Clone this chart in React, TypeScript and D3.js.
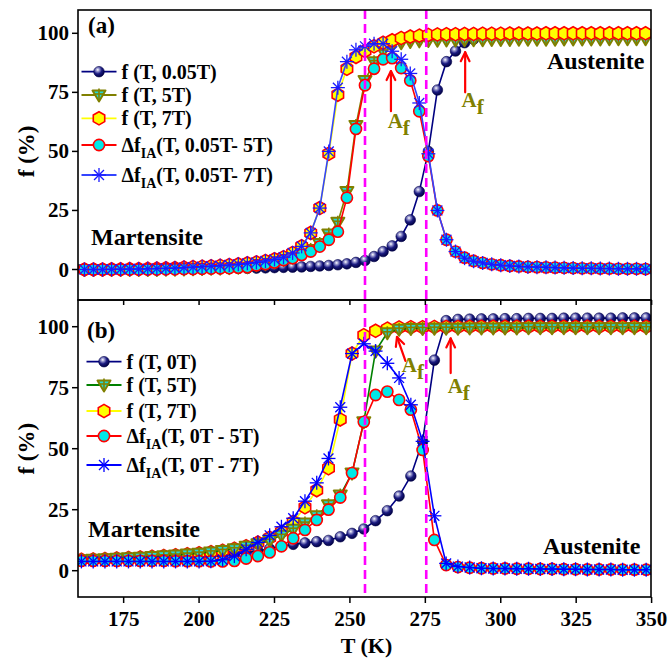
import React from "react";
import * as d3 from "d3";

// ---------- data: panel (a) ----------
const TEMP_A = [162,165,168,171,174,177,180,183,186,189,192,195,198,201,204,207,210,213,216,219,222,225,228,231,234,237,240,243,246,249,252,255,258,261,264,267,270,273,276,279,282,285,288,291,294,297,300,303,306,309,312,315,318,321,324,327,330,333,336,339,342,345,348];

const A_F_005T = [0,0,0,0,0,0,0,0,0,0,0.1,0.1,0.2,0.2,0.3,0.3,0.4,0.5,0.5,0.6,0.7,0.8,0.9,1.0,1.1,1.3,1.5,
  1.7,2.0,2.4,3.0,3.8,5.5,7.6,10,14,21,33,50,76,88,92.5,96,97.5,98.3,98.8,99.1,
  99.3,99.4,99.5,99.5,99.6,99.6,99.7,99.7,99.7,99.8,99.8,99.8,99.8,99.9,99.9,99.9];

const A_F_5T = [0,0,0,0,0,0,0,0,0,0.1,0.1,0.2,0.3,0.4,0.5,0.6,0.8,1.0,1.2,
  2.0,2.5,3.2,4.3,5.2,6.8,8.5,11,15,20,33,61,80,88,92.5,95,96,96.5,96.8,
  97.0,97.1,97.2,97.2,97.3,97.3,97.3,97.4,97.4,97.4,97.5,97.5,97.5,97.5,97.5,97.6,97.6,97.6,97.6,97.6,97.7,97.7,97.7,97.7,97.7];

const A_F_7T = [0,0,0,0.1,0.1,0.2,0.2,0.3,0.4,0.5,0.6,0.8,1.0,1.2,1.4,1.6,1.9,2.2,2.6,3.0,3.6,4.3,5.2,7,9.8,15.5,26,49,74,85,90,92.5,94.5,96,97,98,98.6,99,99.3,
  99.5,99.6,99.6,99.7,99.7,99.8,99.8,99.8,99.9,99.9,99.9,99.9,100,100,100,100,100,100,100,100,100,100,100,100];

const A_DF_5T = [0,0,0,0,0,0,0,0,0,0.1,0.1,0.2,0.2,0.3,0.4,0.5,0.6,0.8,1.0,
  1.8,2.3,3.0,4.0,4.8,6.2,7.6,9.7,12.6,16,30.4,59.5,78,85,89,89.5,85.3,80,67,48,25,12.6,7.6,5,3.6,2.8,2.2,1.8,
  1.5,1.3,1.1,1.0,0.9,0.8,0.7,0.6,0.5,0.5,0.4,0.4,0.3,0.3,0.3,0.2];

const A_DF_7T = [0,0,0,0.1,0.1,0.2,0.2,0.3,0.4,0.5,0.6,0.8,1.0,1.2,1.4,1.6,1.9,2.2,2.6,3.0,3.6,4.3,5.2,7,9.8,15.5,26,
  50,77,88,93,94.5,95.6,95.6,92.4,89,83,70.5,49,25,12.6,7.6,4.8,3.5,2.8,2.2,1.8,
  1.5,1.3,1.1,1.0,0.9,0.8,0.7,0.6,0.5,0.5,0.4,0.4,0.3,0.3,0.3,0.2];

// ---------- data: panel (b) ----------
const TEMP_B = [161.0,164.9,168.8,172.7,176.6,180.5,184.4,188.3,192.2,196.1,200.0,203.9,207.8,211.7,215.6,219.5,223.4,227.3,231.2,235.1,239.0,242.9,246.8,250.7,254.6,258.5,262.4,266.3,270.2,274.1,278.0,281.9,285.8,289.7,293.6,297.5,301.4,305.3,309.2,313.1,317.0,320.9,324.8,328.7,332.6,336.5,340.4,344.3,348.2];

const B_F_0T = [4.0,4.1,4.2,4.3,4.4,4.5,4.7,4.9,5.1,5.3,5.6,5.9,6.3,6.8,7.4,8.1,9.0,10.0,10.8,11.4,11.9,12.4,13.9,15.3,17.1,20.5,24.6,30.6,38.8,53,86.3,102.5,
  103,103.1,103.2,103.2,103.3,103.3,103.4,103.4,103.4,103.5,103.5,103.5,103.5,103.5,103.6,103.6,103.6];

const B_F_5T = [4.5,4.7,4.9,5.1,5.3,5.5,5.8,6.1,6.4,6.8,7.2,7.7,8.3,9.0,10,11,12.5,14.5,17,19.5,22.5,27,31,40,61,90,97.5,99,
  99.3,99.3,99.4,99.4,99.4,99.5,99.5,99.5,99.5,99.5,99.6,99.6,99.6,99.6,99.6,99.6,99.6,99.6,99.6,99.6,99.6];

const B_F_7T = [4.5,4.6,4.8,5.0,5.2,5.4,5.7,6.0,6.3,6.7,7.1,7.6,8.2,9.0,10,11.5,13.5,16,20,26,33,42,62,89,96.5,98.3,99.2,
  99.7,99.8,99.8,99.9,99.9,99.9,100,100,100,100,100,100,100,100,100,100,100,100,100,100,100,100];

const B_DF_5T = [4.0,4.0,4.0,4.0,4.0,4.0,4.0,4.0,3.9,3.9,3.9,3.8,3.8,4.0,5.0,6.0,7.5,10,13.3,16.7,20.8,25,30,40,61,72,73.4,70,66,49.5,12.6,2.3,1.5,1.2,
  1.0,0.9,0.9,0.8,0.8,0.7,0.7,0.6,0.6,0.5,0.5,0.5,0.4,0.4,0.4];

const B_DF_7T = [3.8,3.8,3.8,3.8,3.8,3.8,3.8,3.8,3.8,3.8,3.8,3.9,4.5,6.0,8.8,11.6,14.5,18,21.5,28.5,36,46,67,89,93,90,85,79,68,53,22.5,3.0,1.7,1.3,
  1.0,0.9,0.9,0.8,0.8,0.7,0.7,0.6,0.6,0.5,0.5,0.5,0.4,0.4,0.4];

// ---------- axes / annotations ----------
const X_TICKS = [175, 200, 225, 250, 275, 300, 325, 350];
const Y_TICKS = [0, 25, 50, 75, 100];
const TRANSITION_T = [255, 275.3];

const LEGEND_A = ["f (T, 0.05T)", "f (T, 5T)", "f (T, 7T)", "(T, 0.05T- 5T)", "(T, 0.05T- 7T)"];
const LEGEND_B = ["f (T, 0T)", "f (T, 5T)", "f (T, 7T)", "(T, 0T - 5T)", "(T, 0T - 7T)"];

// arrows: [T tail, f tail, T tip, f tip]
const ARROWS_A = [[263.6, 67, 263.6, 84], [288.2, 75, 288.2, 92]];
const ARROWS_B = [[268.4, 86, 265.6, 95.8], [283.4, 81, 283.4, 95.2]];
// Af labels: [T, f] of text baseline start
const AF_A = [[262.5, 60], [287, 69]];
const AF_B = [[267.2, 81.5], [282.4, 72.8]];

const FONT = "'Liberation Serif', 'Times New Roman', serif";
const W = 670;
const H = 659;
const LEFT = 78;
const RIGHT = 651;

const x = d3.scaleLinear().domain([160, 350]).range([78.4, 651.6]);
const yA = d3.scaleLinear().domain([0, 100]).range([269.5, 33.3]);
const yB = d3.scaleLinear().domain([0, 100]).range([570.7, 326.7]);

const PANEL_A = { top: 10, bottom: 300 };
const PANEL_B = { top: 300, bottom: 597 };

type MarkerKind = "sphere" | "tri" | "hex" | "circle" | "star";

function Marker({ kind, cx, cy, starColor }: { kind: MarkerKind; cx: number; cy: number; starColor?: string }) {
  if (kind === "sphere") {
    return <circle cx={cx} cy={cy} r={5.3} fill="url(#sphereGrad)" stroke="#00004a" strokeWidth={0.6} />;
  }
  if (kind === "tri") {
    const s = 6.5;
    const p = `M${cx - s},${cy - 4.5}L${cx + s},${cy - 4.5}L${cx},${cy + 6.5}Z`;
    return (
      <g>
        <path d={p} fill="#22d8d8" stroke="#808000" strokeWidth={2} strokeLinejoin="round" />
        <line x1={cx} y1={cy - 6.5} x2={cx} y2={cy + 5} stroke="#808000" strokeWidth={1.6} />
        <line x1={cx - 5} y1={cy - 1} x2={cx + 5} y2={cy - 1} stroke="#808000" strokeWidth={1.6} />
      </g>
    );
  }
  if (kind === "hex") {
    const r = 6.6;
    const pts = d3.range(6).map((k) => {
      const a = -Math.PI / 2 + (k * Math.PI) / 3;
      return [cx + r * Math.cos(a), cy + r * Math.sin(a)];
    });
    return <polygon points={pts.map((p) => p.join(",")).join(" ")} fill="#ffff00" stroke="#ff0000" strokeWidth={1.6} />;
  }
  if (kind === "circle") {
    return <circle cx={cx} cy={cy} r={5.6} fill="#00e8e8" stroke="#ff0000" strokeWidth={1.6} />;
  }
  const r = 7;
  const col = starColor || "#0000ff";
  return (
    <g stroke={col} strokeWidth={1.3}>
      {[0, 45, 90, 135].map((deg) => {
        const a = (deg * Math.PI) / 180;
        return <line key={deg} x1={cx - r * Math.cos(a)} y1={cy - r * Math.sin(a)} x2={cx + r * Math.cos(a)} y2={cy + r * Math.sin(a)} />;
      })}
    </g>
  );
}

type SeriesDef = { t: number[]; v: number[]; kind: MarkerKind; line: string; width?: number; starColor?: string };

function Series({ s, y }: { s: SeriesDef; y: d3.ScaleLinear<number, number> }) {
  const pts: [number, number][] = s.t.map((t, i) => [x(t), y(s.v[i])]);
  const path = d3.line()(pts) || "";
  return (
    <g>
      <path d={path} fill="none" stroke={s.line} strokeWidth={s.width || 1.6} />
      {pts.map((p, i) => (
        <Marker key={i} kind={s.kind} cx={p[0]} cy={p[1]} starColor={s.starColor} />
      ))}
    </g>
  );
}

function LegendLabel({ text, delta, x0, y0 }: { text: string; delta: boolean; x0: number; y0: number }) {
  if (!delta) {
    return (
      <text x={x0} y={y0} fontFamily={FONT} fontWeight="bold" fontSize={20}>
        {text}
      </text>
    );
  }
  return (
    <text x={x0} y={y0} fontFamily={FONT} fontWeight="bold" fontSize={20}>
      Δf
      <tspan fontSize={14} dy={6}>IA</tspan>
      <tspan dy={-6}>{text}</tspan>
    </text>
  );
}

function Legend({
  labels, kinds, lines, rows, lineX0, lineX1, textX, starColor,
}: {
  labels: string[]; kinds: MarkerKind[]; lines: string[]; rows: number[];
  lineX0: number; lineX1: number; textX: number; starColor: string;
}) {
  return (
    <g>
      {labels.map((lab, i) => (
        <g key={i}>
          <line x1={lineX0} x2={lineX1} y1={rows[i]} y2={rows[i]} stroke={lines[i]} strokeWidth={1.8} />
          <Marker kind={kinds[i]} cx={(lineX0 + lineX1) / 2} cy={rows[i]} starColor={starColor} />
          <LegendLabel text={lab} delta={i >= 3} x0={textX} y0={rows[i] + 7} />
        </g>
      ))}
    </g>
  );
}

function Arrow({ x1, y1, x2, y2 }: { x1: number; y1: number; x2: number; y2: number }) {
  const ang = Math.atan2(y2 - y1, x2 - x1);
  const hl = 10;
  const hw = 0.45;
  const a1 = [x2 - hl * Math.cos(ang - hw), y2 - hl * Math.sin(ang - hw)];
  const a2 = [x2 - hl * Math.cos(ang + hw), y2 - hl * Math.sin(ang + hw)];
  return (
    <g stroke="#ff0000" strokeWidth={2.2} fill="none" strokeLinecap="round" strokeLinejoin="round">
      <line x1={x1} y1={y1} x2={x2} y2={y2} />
      <polyline points={`${a1[0]},${a1[1]} ${x2},${y2} ${a2[0]},${a2[1]}`} />
    </g>
  );
}

function AfLabel({ px, py }: { px: number; py: number }) {
  return (
    <text x={px} y={py} fontFamily={FONT} fontWeight="bold" fontSize={21} fill="#808000">
      A<tspan dy={7} fontSize={21}>f</tspan>
    </text>
  );
}

function LeftAxis({ y, title }: { y: d3.ScaleLinear<number, number>; title: string }) {
  const mid = (y(0) + y(100)) / 2;
  return (
    <g>
      {Y_TICKS.map((t) => (
        <g key={t}>
          <line x1={LEFT - 6} x2={LEFT} y1={y(t)} y2={y(t)} stroke="#000" strokeWidth={1.5} />
          <text x={LEFT - 9} y={y(t) + 7} textAnchor="end" fontFamily={FONT} fontWeight="bold" fontSize={21}>
            {t}
          </text>
        </g>
      ))}
      <text
        transform={`translate(34,${mid}) rotate(-90)`}
        textAnchor="middle"
        fontFamily={FONT}
        fontWeight="bold"
        fontSize={23}
      >
        {title}
      </text>
    </g>
  );
}

export default function App() {
  const seriesA: SeriesDef[] = [
    { t: TEMP_A, v: A_F_005T, kind: "sphere", line: "#000080" },
    { t: TEMP_A, v: A_F_5T, kind: "tri", line: "#808000" },
    { t: TEMP_A, v: A_F_7T, kind: "hex", line: "#ffff00" },
    { t: TEMP_A, v: A_DF_5T, kind: "circle", line: "#ff0000" },
    { t: TEMP_A, v: A_DF_7T, kind: "star", line: "#3344ff", starColor: "#1a1aff" },
  ];
  const seriesB: SeriesDef[] = [
    { t: TEMP_B, v: B_F_0T, kind: "sphere", line: "#000080" },
    { t: TEMP_B, v: B_F_7T, kind: "hex", line: "#ffff00" },
    { t: TEMP_B, v: B_F_5T, kind: "tri", line: "#008000" },
    { t: TEMP_B, v: B_DF_5T, kind: "circle", line: "#ff0000" },
    { t: TEMP_B, v: B_DF_7T, kind: "star", line: "#0000ff" },
  ];

  return (
    <svg width={W} height={H} style={{ position: "absolute", left: 0, top: 0, background: "#fff" }}>
      <defs>
        <radialGradient id="sphereGrad" cx="38%" cy="32%" r="70%">
          <stop offset="0%" stopColor="#ffffff" />
          <stop offset="22%" stopColor="#9a9ad0" />
          <stop offset="55%" stopColor="#1a1a80" />
          <stop offset="100%" stopColor="#000040" />
        </radialGradient>
        <clipPath id="clipA">
          <rect x={LEFT} y={PANEL_A.top} width={RIGHT - LEFT} height={PANEL_A.bottom - PANEL_A.top} />
        </clipPath>
        <clipPath id="clipB">
          <rect x={LEFT} y={PANEL_B.top} width={RIGHT - LEFT} height={PANEL_B.bottom - PANEL_B.top} />
        </clipPath>
      </defs>

      {/* data */}
      <g clipPath="url(#clipA)">
        {seriesA.map((s, i) => (
          <Series key={i} s={s} y={yA} />
        ))}
      </g>
      <g clipPath="url(#clipB)">
        {seriesB.map((s, i) => (
          <Series key={i} s={s} y={yB} />
        ))}
      </g>

      {/* transition temperatures */}
      {TRANSITION_T.map((t) => (
        <line key={t} x1={x(t)} x2={x(t)} y1={PANEL_A.top} y2={PANEL_B.bottom} stroke="#ff00ff" strokeWidth={2.6} strokeDasharray="9,5" />
      ))}

      {/* frames */}
      <rect x={LEFT} y={PANEL_A.top} width={RIGHT - LEFT} height={PANEL_A.bottom - PANEL_A.top} fill="none" stroke="#000" strokeWidth={1.6} />
      <rect x={LEFT} y={PANEL_B.top} width={RIGHT - LEFT} height={PANEL_B.bottom - PANEL_B.top} fill="none" stroke="#000" strokeWidth={1.6} />

      {/* axes */}
      <LeftAxis y={yA} title="f (%)" />
      <LeftAxis y={yB} title="f (%)" />
      {X_TICKS.map((t) => (
        <g key={t}>
          <line x1={x(t)} x2={x(t)} y1={PANEL_B.bottom} y2={PANEL_B.bottom + 6} stroke="#000" strokeWidth={1.5} />
          <line x1={x(t)} x2={x(t)} y1={PANEL_B.top} y2={PANEL_B.top + 5} stroke="#000" strokeWidth={1.5} />
          <text x={x(t)} y={626} textAnchor="middle" fontFamily={FONT} fontWeight="bold" fontSize={21}>
            {t}
          </text>
        </g>
      ))}
      <text x={x(255.5)} y={653} textAnchor="middle" fontFamily={FONT} fontWeight="bold" fontSize={22}>
        T (K)
      </text>

      {/* panel labels and phase names */}
      <text x={88} y={33} fontFamily={FONT} fontWeight="bold" fontSize={23}>(a)</text>
      <text x={87} y={338} fontFamily={FONT} fontWeight="bold" fontSize={23}>(b)</text>
      <text x={91} y={245} fontFamily={FONT} fontWeight="bold" fontSize={24}>Martensite</text>
      <text x={88} y={537} fontFamily={FONT} fontWeight="bold" fontSize={24}>Martensite</text>
      <text x={547} y={69} fontFamily={FONT} fontWeight="bold" fontSize={24}>Austenite</text>
      <text x={543} y={554} fontFamily={FONT} fontWeight="bold" fontSize={24}>Austenite</text>

      {/* legends */}
      <Legend
        labels={LEGEND_A}
        kinds={["sphere", "tri", "hex", "circle", "star"]}
        lines={["#000080", "#808000", "#ffff00", "#ff0000", "#3344ff"]}
        rows={[71.7, 95, 118.3, 145, 175]}
        lineX0={81.5}
        lineX1={116.5}
        textX={121.5}
        starColor="#1a1aff"
      />
      <Legend
        labels={LEGEND_B}
        kinds={["sphere", "tri", "hex", "circle", "star"]}
        lines={["#000080", "#008000", "#ffff00", "#ff0000", "#0000ff"]}
        rows={[361.7, 385, 411, 436, 465]}
        lineX0={86.5}
        lineX1={121.5}
        textX={126.5}
        starColor="#0000ff"
      />

      {/* Af markers */}
      {ARROWS_A.map((a, i) => (
        <Arrow key={i} x1={x(a[0])} y1={yA(a[1])} x2={x(a[2])} y2={yA(a[3])} />
      ))}
      {ARROWS_B.map((a, i) => (
        <Arrow key={i} x1={x(a[0])} y1={yB(a[1])} x2={x(a[2])} y2={yB(a[3])} />
      ))}
      {AF_A.map((p, i) => (
        <AfLabel key={i} px={x(p[0])} py={yA(p[1])} />
      ))}
      {AF_B.map((p, i) => (
        <AfLabel key={i} px={x(p[0])} py={yB(p[1])} />
      ))}
    </svg>
  );
}
